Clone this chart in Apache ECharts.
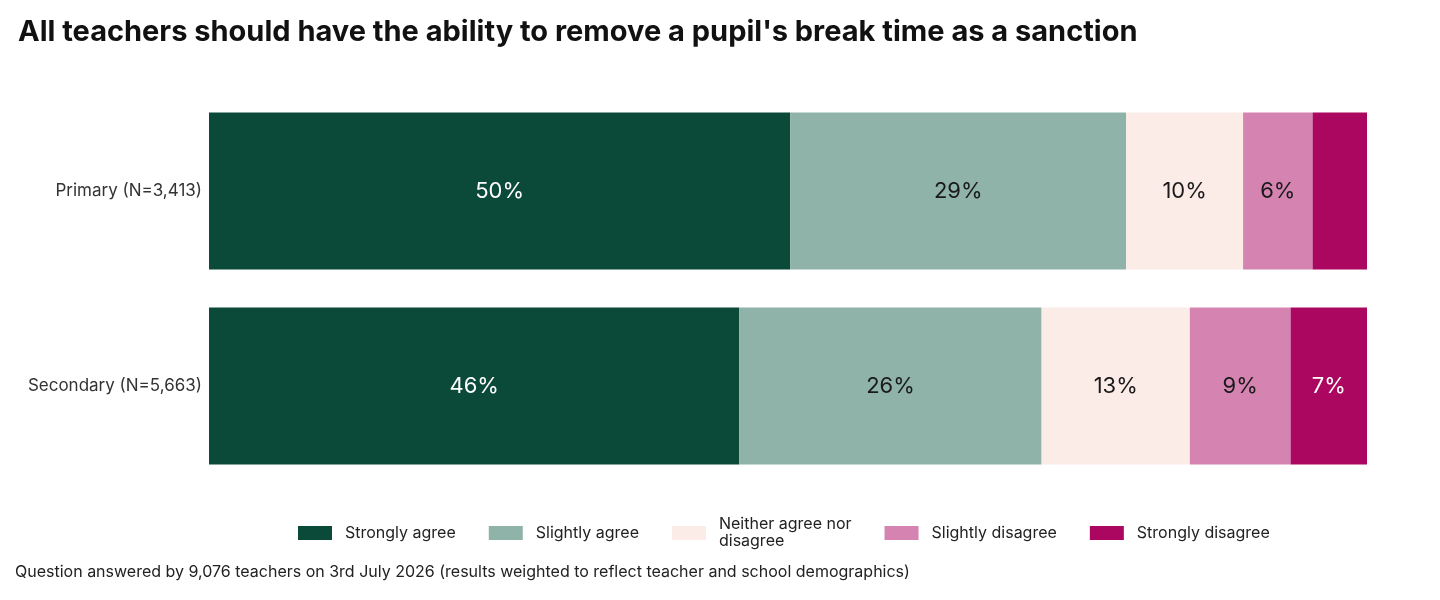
<!DOCTYPE html>
<html><head><meta charset="utf-8">
<script src="https://cdn.jsdelivr.net/npm/echarts@6/dist/echarts.min.js"></script>
<style>html,body{margin:0;padding:0;background:#fff}#c{width:1440px;height:600px}</style>
</head><body><div id="c"></div>
<script>
const categories = ['Primary (N=3,413)', 'Secondary (N=5,663)'];
const seriesNames = ['Strongly agree', 'Slightly agree', 'Neither agree nor\ndisagree', 'Slightly disagree', 'Strongly disagree'];
const stronglyAgree = [50.2, 45.8];
const slightlyAgree = [29.0, 26.1];
const neither = [10.1, 12.8];
const slightlyDisagree = [6.0, 8.7];
const stronglyDisagree = [4.7, 6.6];
const colors = ['#0b4a38', '#8fb3a8', '#fcece7', '#d583b0', '#ab0760'];
const labelColors = ['#ffffff', '#1a1a1a', '#1a1a1a', '#1a1a1a', '#ffffff'];
const values = [stronglyAgree, slightlyAgree, neither, slightlyDisagree, stronglyDisagree];

const FONT = 'Inter, "Noto Sans", sans-serif';
const chart = echarts.init(document.getElementById('c'));
chart.setOption({
  animation: false,
  textStyle: { fontFamily: FONT },
  title: {
    text: "All teachers should have the ability to remove a pupil's break time as a sanction",
    left: 13, top: 13,
    textStyle: { fontFamily: FONT, fontSize: 29, fontWeight: 700, color: '#111' }
  },
  legend: {
    left: 293, top: 511,
    itemWidth: 34, itemHeight: 14, itemGap: 33,
    icon: 'rect',
    textStyle: { fontFamily: FONT, fontSize: 16, color: '#222', lineHeight: 17, padding: [0, 0, 0, 8] },
    data: seriesNames
  },
  graphic: [{
    type: 'text', left: 15, top: 564,
    style: { text: 'Question answered by 9,076 teachers on 3rd July 2026 (results weighted to reflect teacher and school demographics)',
      font: '16px ' + FONT, fill: '#222' }
  }],
  grid: { left: 209, right: 73, top: 93.5, height: 390 },
  xAxis: { type: 'value', min: 0, max: 100, show: false },
  yAxis: {
    type: 'category', data: categories, inverse: true,
    axisLine: { show: false }, axisTick: { show: false },
    axisLabel: { fontFamily: FONT, fontSize: 17, color: '#333', margin: 7 }
  },
  series: values.map((v, i) => ({
    name: seriesNames[i], type: 'bar', stack: 'total', data: v,
    barCategoryGap: '19.5%',
    itemStyle: { color: colors[i] },
    label: {
      show: true, position: 'inside', fontFamily: FONT, fontSize: 22, color: labelColors[i],
      formatter: p => p.value < 5 ? '' : Math.round(p.value) + '%'
    }
  }))
});
</script></body></html>
